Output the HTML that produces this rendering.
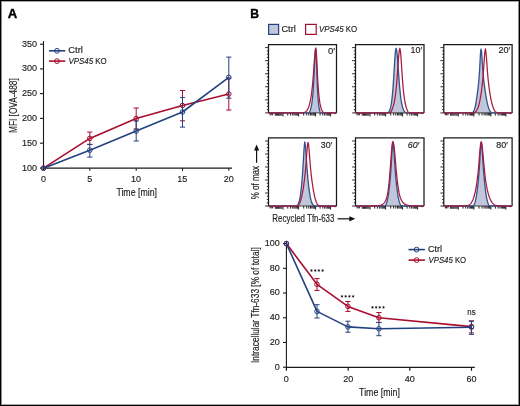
<!DOCTYPE html>
<html><head><meta charset="utf-8"><style>
html,body{margin:0;padding:0;background:#fff;}
body{width:520px;height:406px;overflow:hidden;font-family:"Liberation Sans", sans-serif;}
svg{display:block;will-change:transform;}
</style></head><body>
<svg width="520" height="406" viewBox="0 0 520 406" font-family='"Liberation Sans", sans-serif'><g opacity="0.999"><rect x="0.5" y="0.5" width="519" height="405" fill="#fff" stroke="#000" stroke-width="1"/>
<path d="M1.5,1 V405 M518.5,1 V405" stroke="#8a8a8a" stroke-width="1"/>
<path d="M2,1.5 H518 M2,404.5 H518" stroke="#a8a8a8" stroke-width="1"/>
<text x="7.67" y="17.90" font-size="12.2" fill="#000" stroke="#000" stroke-width="0.35" textLength="9.49" lengthAdjust="spacingAndGlyphs"><tspan font-weight="bold">A</tspan></text>
<text x="250.21" y="17.90" font-size="12.2" fill="#000" stroke="#000" stroke-width="0.35" textLength="8.76" lengthAdjust="spacingAndGlyphs"><tspan font-weight="bold">B</tspan></text>
<line x1="43.5" y1="41" x2="43.5" y2="168.7" stroke="#1a1a1a" stroke-width="1.1"/>
<line x1="43.0" y1="168.2" x2="232" y2="168.2" stroke="#1a1a1a" stroke-width="1.3"/>
<line x1="40" y1="44.2" x2="43.5" y2="44.2" stroke="#1a1a1a" stroke-width="1.1"/>
<text x="22.10" y="46.70" font-size="9.3" fill="#1c1c1c" stroke="#1c1c1c" stroke-width="0.15" textLength="15.05" lengthAdjust="spacingAndGlyphs"><tspan>350</tspan></text>
<line x1="40" y1="68.9" x2="43.5" y2="68.9" stroke="#1a1a1a" stroke-width="1.1"/>
<text x="22.10" y="71.40" font-size="9.3" fill="#1c1c1c" stroke="#1c1c1c" stroke-width="0.15" textLength="15.05" lengthAdjust="spacingAndGlyphs"><tspan>300</tspan></text>
<line x1="40" y1="93.6" x2="43.5" y2="93.6" stroke="#1a1a1a" stroke-width="1.1"/>
<text x="22.10" y="96.10" font-size="9.3" fill="#1c1c1c" stroke="#1c1c1c" stroke-width="0.15" textLength="15.05" lengthAdjust="spacingAndGlyphs"><tspan>250</tspan></text>
<line x1="40" y1="118.4" x2="43.5" y2="118.4" stroke="#1a1a1a" stroke-width="1.1"/>
<text x="22.10" y="120.90" font-size="9.3" fill="#1c1c1c" stroke="#1c1c1c" stroke-width="0.15" textLength="15.05" lengthAdjust="spacingAndGlyphs"><tspan>200</tspan></text>
<line x1="40" y1="143.2" x2="43.5" y2="143.2" stroke="#1a1a1a" stroke-width="1.1"/>
<text x="22.10" y="145.70" font-size="9.3" fill="#1c1c1c" stroke="#1c1c1c" stroke-width="0.15" textLength="15.05" lengthAdjust="spacingAndGlyphs"><tspan>150</tspan></text>
<line x1="40" y1="168.0" x2="43.5" y2="168.0" stroke="#1a1a1a" stroke-width="1.1"/>
<text x="22.10" y="170.50" font-size="9.3" fill="#1c1c1c" stroke="#1c1c1c" stroke-width="0.15" textLength="15.05" lengthAdjust="spacingAndGlyphs"><tspan>100</tspan></text>
<line x1="43.5" y1="168.2" x2="43.5" y2="170.8" stroke="#1a1a1a" stroke-width="1.1"/>
<text x="40.97" y="181.80" font-size="9.3" fill="#1c1c1c" stroke="#1c1c1c" stroke-width="0.15" textLength="5.02" lengthAdjust="spacingAndGlyphs"><tspan>0</tspan></text>
<line x1="89.8" y1="168.2" x2="89.8" y2="170.8" stroke="#1a1a1a" stroke-width="1.1"/>
<text x="87.30" y="181.80" font-size="9.3" fill="#1c1c1c" stroke="#1c1c1c" stroke-width="0.15" textLength="5.02" lengthAdjust="spacingAndGlyphs"><tspan>5</tspan></text>
<line x1="136.2" y1="168.2" x2="136.2" y2="170.8" stroke="#1a1a1a" stroke-width="1.1"/>
<text x="131.01" y="181.80" font-size="9.3" fill="#1c1c1c" stroke="#1c1c1c" stroke-width="0.15" textLength="10.03" lengthAdjust="spacingAndGlyphs"><tspan>10</tspan></text>
<line x1="182.5" y1="168.2" x2="182.5" y2="170.8" stroke="#1a1a1a" stroke-width="1.1"/>
<text x="177.34" y="181.80" font-size="9.3" fill="#1c1c1c" stroke="#1c1c1c" stroke-width="0.15" textLength="10.03" lengthAdjust="spacingAndGlyphs"><tspan>15</tspan></text>
<line x1="228.8" y1="168.2" x2="228.8" y2="170.8" stroke="#1a1a1a" stroke-width="1.1"/>
<text x="223.73" y="181.80" font-size="9.3" fill="#1c1c1c" stroke="#1c1c1c" stroke-width="0.15" textLength="10.03" lengthAdjust="spacingAndGlyphs"><tspan>20</tspan></text>
<text x="116.42" y="196.40" font-size="10.6" fill="#1c1c1c" stroke="#1c1c1c" stroke-width="0.15" textLength="40.53" lengthAdjust="spacingAndGlyphs"><tspan>Time [min]</tspan></text>
<text x="0" y="0" transform="translate(16.70 132.96) rotate(-90)" font-size="11.0" fill="#1c1c1c" stroke="#1c1c1c" stroke-width="0.15" textLength="54.68" lengthAdjust="spacingAndGlyphs"><tspan>MFI [OVA-488]</tspan></text>
<line x1="49" y1="50.8" x2="65.3" y2="50.8" stroke="#22427f" stroke-width="1.6"/>
<circle cx="57" cy="50.8" r="2.4" fill="none" stroke="#22427f" stroke-width="1"/>
<line x1="49" y1="61.1" x2="65.3" y2="61.1" stroke="#a80d2e" stroke-width="1.6"/>
<circle cx="57" cy="61.1" r="2.4" fill="none" stroke="#a80d2e" stroke-width="1"/>
<text x="68.33" y="52.90" font-size="8.4" fill="#1c1c1c" stroke="#1c1c1c" stroke-width="0.15" textLength="14.47" lengthAdjust="spacingAndGlyphs"><tspan>Ctrl</tspan></text>
<text x="68.53" y="63.80" font-size="8.5" fill="#1c1c1c" stroke="#1c1c1c" stroke-width="0.15" textLength="38.24" lengthAdjust="spacingAndGlyphs"><tspan font-style="italic">VPS45</tspan><tspan> KO</tspan></text>
<path d="M43.50,168.20 L89.80,138.40 L136.20,118.50 L182.50,105.50 L228.80,94.00" fill="none" stroke="#a80d2e" stroke-width="1.6" stroke-linejoin="round"/>
<path d="M89.80,132.10 V144.60 M87.20,132.10 H92.40 M87.20,144.60 H92.40 M136.20,108.00 V129.00 M133.60,108.00 H138.80 M133.60,129.00 H138.80 M182.50,90.50 V120.80 M179.90,90.50 H185.10 M179.90,120.80 H185.10 M228.80,78.00 V110.00 M226.20,78.00 H231.40 M226.20,110.00 H231.40 " stroke="#a80d2e" stroke-width="1" fill="none"/>
<circle cx="43.50" cy="168.20" r="2.3" fill="none" stroke="#a80d2e" stroke-width="1.0"/>
<circle cx="89.80" cy="138.40" r="2.3" fill="none" stroke="#a80d2e" stroke-width="1.0"/>
<circle cx="136.20" cy="118.50" r="2.3" fill="none" stroke="#a80d2e" stroke-width="1.0"/>
<circle cx="182.50" cy="105.50" r="2.3" fill="none" stroke="#a80d2e" stroke-width="1.0"/>
<circle cx="228.80" cy="94.00" r="2.3" fill="none" stroke="#a80d2e" stroke-width="1.0"/>
<path d="M43.50,168.20 L89.80,150.20 L136.20,131.10 L182.50,112.00 L228.80,77.30" fill="none" stroke="#22427f" stroke-width="1.6" stroke-linejoin="round"/>
<path d="M89.80,144.30 V157.10 M87.20,144.30 H92.40 M87.20,157.10 H92.40 M136.20,121.00 V141.00 M133.60,121.00 H138.80 M133.60,141.00 H138.80 M182.50,97.60 V127.10 M179.90,97.60 H185.10 M179.90,127.10 H185.10 M228.80,57.10 V98.20 M226.20,57.10 H231.40 M226.20,98.20 H231.40 " stroke="#22427f" stroke-width="1" fill="none"/>
<circle cx="43.50" cy="168.20" r="2.3" fill="none" stroke="#22427f" stroke-width="1.0"/>
<circle cx="89.80" cy="150.20" r="2.3" fill="none" stroke="#22427f" stroke-width="1.0"/>
<circle cx="136.20" cy="131.10" r="2.3" fill="none" stroke="#22427f" stroke-width="1.0"/>
<circle cx="182.50" cy="112.00" r="2.3" fill="none" stroke="#22427f" stroke-width="1.0"/>
<circle cx="228.80" cy="77.30" r="2.3" fill="none" stroke="#22427f" stroke-width="1.0"/>
<rect x="268.6" y="24.4" width="10.0" height="10.0" fill="#c2c6da" stroke="#22427f" stroke-width="1.2"/>
<rect x="305.6" y="24.4" width="10.6" height="10.0" fill="#fff" stroke="#a80d2e" stroke-width="1.2"/>
<text x="281.44" y="31.80" font-size="8.5" fill="#1c1c1c" stroke="#1c1c1c" stroke-width="0.15" textLength="14.36" lengthAdjust="spacingAndGlyphs"><tspan>Ctrl</tspan></text>
<text x="319.03" y="31.60" font-size="8.5" fill="#1c1c1c" stroke="#1c1c1c" stroke-width="0.15" textLength="38.24" lengthAdjust="spacingAndGlyphs"><tspan font-style="italic">VPS45</tspan><tspan> KO</tspan></text>
<path d="M268.5,112.90 L269.0,112.90 L269.5,112.90 L270.0,112.90 L270.5,112.90 L271.0,112.90 L271.5,112.90 L272.0,112.90 L272.5,112.90 L273.0,112.90 L273.5,112.90 L274.0,112.90 L274.5,112.90 L275.0,112.90 L275.5,112.90 L276.0,112.90 L276.5,112.90 L277.0,112.90 L277.5,112.90 L278.0,112.90 L278.5,112.90 L279.0,112.90 L279.5,112.90 L280.0,112.90 L280.5,112.90 L281.0,112.90 L281.5,112.90 L282.0,112.90 L282.5,112.90 L283.0,112.90 L283.5,112.90 L284.0,112.90 L284.5,112.90 L285.0,112.90 L285.5,112.90 L286.0,112.90 L286.5,112.90 L287.0,112.90 L287.5,112.90 L288.0,112.90 L288.5,112.90 L289.0,112.90 L289.5,112.90 L290.0,112.90 L290.5,112.90 L291.0,112.90 L291.5,112.90 L292.0,112.90 L292.5,112.90 L293.0,112.90 L293.5,112.90 L294.0,112.90 L294.5,112.90 L295.0,112.90 L295.5,112.90 L296.0,112.90 L296.5,112.90 L297.0,112.90 L297.5,112.90 L298.0,112.90 L298.5,112.90 L299.0,112.90 L299.5,112.90 L300.0,112.90 L300.5,112.90 L301.0,112.90 L301.5,112.90 L302.0,112.90 L302.5,112.90 L303.0,112.90 L303.5,112.90 L304.0,112.90 L304.5,112.90 L305.0,112.90 L305.5,112.90 L306.0,112.90 L306.5,112.90 L307.0,112.90 L307.5,112.90 L308.0,112.90 L308.5,112.90 L309.0,112.90 L309.5,112.09 L310.0,110.90 L310.5,109.44 L311.0,107.60 L311.5,105.27 L312.0,102.24 L312.5,98.20 L313.0,92.73 L313.5,85.41 L314.0,76.07 L314.5,65.39 L315.0,55.42 L315.5,49.32 L315.7,48.60 L316.0,50.62 L316.5,62.48 L317.0,77.51 L317.5,89.73 L318.0,98.06 L318.5,103.51 L319.0,107.18 L319.5,109.78 L320.0,111.68 L320.5,112.90 L321.0,112.90 L321.5,112.90 L322.0,112.90 L322.5,112.90 L323.0,112.90 L323.5,112.90 L324.0,112.90 L324.5,112.90 L325.0,112.90 L325.5,112.90 L326.0,112.90 L326.5,112.90 L327.0,112.90 L327.5,112.90 L328.0,112.90 L328.5,112.90 L329.0,112.90 L329.5,112.90 L330.0,112.90 L330.5,112.90 L331.0,112.90 L331.5,112.90 L332.0,112.90 L332.5,112.90 L333.0,112.90 L333.5,112.90 L334.0,112.90 L334.5,112.90 L335.0,112.90 L335.5,112.90 L336.0,112.90 L336.5,112.90 L336.5,112.9 L268.5,112.9 Z" fill="#c2c6da"/>
<path d="M268.5,112.9 V44.5 H336.5 V112.9" fill="none" stroke="#1a1a1a" stroke-width="1.25"/>
<path d="M268.5,112.9 H336.5" fill="none" stroke="#1a1a1a" stroke-width="0.8"/>
<path d="M265.1,47.60 H268.5 M266.8,50.87 H268.5 M266.8,54.13 H268.5 M266.8,57.40 H268.5 M265.1,60.66 H268.5 M266.8,63.93 H268.5 M266.8,67.19 H268.5 M266.8,70.46 H268.5 M265.1,73.72 H268.5 M266.8,76.98 H268.5 M266.8,80.25 H268.5 M266.8,83.52 H268.5 M265.1,86.78 H268.5 M266.8,90.05 H268.5 M266.8,93.31 H268.5 M266.8,96.58 H268.5 M265.1,99.84 H268.5 M266.8,103.11 H268.5 M266.8,106.37 H268.5 M266.8,109.64 H268.5 M265.1,112.90 H268.5 " stroke="#1a1a1a" stroke-width="0.9"/>
<path d="M270.1,112.9 v2.4 M271.2,112.9 v2.4 M272.6,112.9 v2.4 M275.3,112.9 v2.8 M276.4,112.9 v2.8 M277.5,112.9 v2.8 M278.6,112.9 v2.8 M279.7,112.9 v2.8 M280.8,112.9 v2.8 M281.9,112.9 v2.8 M283.0,112.9 v3.6 M287.7,112.9 v2.6 M290.4,112.9 v2.6 M292.4,112.9 v2.6 M293.9,112.9 v2.6 M295.1,112.9 v2.6 M296.2,112.9 v2.6 M297.1,112.9 v2.6 M297.9,112.9 v2.6 M298.6,112.9 v3.6 M303.7,112.9 v2.6 M306.7,112.9 v2.6 M308.8,112.9 v2.6 M310.5,112.9 v2.6 M311.8,112.9 v2.6 M313.0,112.9 v2.6 M314.0,112.9 v2.6 M314.8,112.9 v2.6 M315.6,112.9 v3.6 M320.1,112.9 v2.6 M322.8,112.9 v2.6 M324.6,112.9 v2.6 M326.1,112.9 v2.6 M327.3,112.9 v2.6 M328.3,112.9 v2.6 M329.1,112.9 v2.6 M329.9,112.9 v2.6 M330.6,112.9 v3.6 M335.0,112.9 v1.3 " stroke="#1a1a1a" stroke-width="0.95"/>
<path d="M268.5,112.90 L269.0,112.90 L269.5,112.90 L270.0,112.90 L270.5,112.90 L271.0,112.90 L271.5,112.90 L272.0,112.90 L272.5,112.90 L273.0,112.90 L273.5,112.90 L274.0,112.90 L274.5,112.90 L275.0,112.90 L275.5,112.90 L276.0,112.90 L276.5,112.90 L277.0,112.90 L277.5,112.90 L278.0,112.90 L278.5,112.90 L279.0,112.90 L279.5,112.90 L280.0,112.90 L280.5,112.90 L281.0,112.90 L281.5,112.90 L282.0,112.90 L282.5,112.90 L283.0,112.90 L283.5,112.90 L284.0,112.90 L284.5,112.90 L285.0,112.90 L285.5,112.90 L286.0,112.90 L286.5,112.90 L287.0,112.90 L287.5,112.90 L288.0,112.90 L288.5,112.90 L289.0,112.90 L289.5,112.90 L290.0,112.90 L290.5,112.90 L291.0,112.90 L291.5,112.90 L292.0,112.90 L292.5,112.90 L293.0,112.90 L293.5,112.90 L294.0,112.90 L294.5,112.90 L295.0,112.90 L295.5,112.90 L296.0,112.90 L296.5,112.90 L297.0,112.90 L297.5,112.90 L298.0,112.90 L298.5,112.90 L299.0,112.90 L299.5,112.90 L300.0,112.90 L300.5,112.90 L301.0,112.90 L301.5,112.90 L302.0,112.90 L302.5,112.90 L303.0,112.90 L303.5,112.90 L304.0,112.90 L304.5,112.90 L305.0,112.90 L305.5,112.90 L306.0,112.90 L306.5,112.90 L307.0,112.90 L307.5,112.90 L308.0,112.90 L308.5,112.90 L309.0,112.90 L309.5,112.09 L310.0,110.90 L310.5,109.44 L311.0,107.60 L311.5,105.27 L312.0,102.24 L312.5,98.20 L313.0,92.73 L313.5,85.41 L314.0,76.07 L314.5,65.39 L315.0,55.42 L315.5,49.32 L315.7,48.60 L316.0,50.62 L316.5,62.48 L317.0,77.51 L317.5,89.73 L318.0,98.06 L318.5,103.51 L319.0,107.18 L319.5,109.78 L320.0,111.68 L320.5,112.90 L321.0,112.90 L321.5,112.90 L322.0,112.90 L322.5,112.90 L323.0,112.90 L323.5,112.90 L324.0,112.90 L324.5,112.90 L325.0,112.90 L325.5,112.90 L326.0,112.90 L326.5,112.90 L327.0,112.90 L327.5,112.90 L328.0,112.90 L328.5,112.90 L329.0,112.90 L329.5,112.90 L330.0,112.90 L330.5,112.90 L331.0,112.90 L331.5,112.90 L332.0,112.90 L332.5,112.90 L333.0,112.90 L333.5,112.90 L334.0,112.90 L334.5,112.90 L335.0,112.90 L335.5,112.90 L336.0,112.90 L336.5,112.90" fill="none" stroke="#33538d" stroke-width="1.3"/>
<path d="M268.5,112.90 L269.0,112.90 L269.5,112.90 L270.0,112.90 L270.5,112.90 L271.0,112.90 L271.5,112.90 L272.0,112.90 L272.5,112.90 L273.0,112.90 L273.5,112.90 L274.0,112.90 L274.5,112.90 L275.0,112.90 L275.5,112.90 L276.0,112.90 L276.5,112.90 L277.0,112.90 L277.5,112.90 L278.0,112.90 L278.5,112.90 L279.0,112.90 L279.5,112.90 L280.0,112.90 L280.5,112.90 L281.0,112.90 L281.5,112.90 L282.0,112.90 L282.5,112.90 L283.0,112.90 L283.5,112.90 L284.0,112.90 L284.5,112.90 L285.0,112.90 L285.5,112.90 L286.0,112.90 L286.5,112.90 L287.0,112.90 L287.5,112.90 L288.0,112.90 L288.5,112.90 L289.0,112.90 L289.5,112.90 L290.0,112.90 L290.5,112.90 L291.0,112.90 L291.5,112.90 L292.0,112.90 L292.5,112.90 L293.0,112.90 L293.5,112.90 L294.0,112.90 L294.5,112.90 L295.0,112.90 L295.5,112.90 L296.0,112.90 L296.5,112.90 L297.0,112.90 L297.5,112.90 L298.0,112.90 L298.5,112.90 L299.0,112.89 L299.5,112.89 L300.0,112.89 L300.5,112.88 L301.0,112.87 L301.5,112.85 L302.0,112.82 L302.5,112.78 L303.0,112.72 L303.5,112.63 L304.0,112.52 L304.5,112.36 L305.0,112.14 L305.5,111.85 L306.0,111.47 L306.5,110.97 L307.0,110.35 L307.5,109.57 L308.0,108.61 L308.5,107.44 L309.0,106.02 L309.5,104.34 L310.0,102.34 L310.5,99.98 L311.0,97.19 L311.5,93.87 L312.0,89.91 L312.5,85.17 L313.0,79.55 L313.5,73.04 L314.0,65.89 L314.5,58.76 L315.0,52.71 L315.5,49.04 L315.8,48.40 L316.0,49.00 L316.5,55.15 L317.0,65.13 L317.5,75.43 L318.0,84.17 L318.5,91.04 L319.0,96.33 L319.5,100.44 L320.0,103.66 L320.5,106.17 L321.0,108.11 L321.5,109.58 L322.0,110.66 L322.5,111.43 L323.0,111.97 L323.5,112.32 L324.0,112.56 L324.5,112.70 L325.0,112.79 L325.5,112.84 L326.0,112.87 L326.5,112.88 L327.0,112.89 L327.5,112.90 L328.0,112.90 L328.5,112.90 L329.0,112.90 L329.5,112.90 L330.0,112.90 L330.5,112.90 L331.0,112.90 L331.5,112.90 L332.0,112.90 L332.5,112.90 L333.0,112.90 L333.5,112.90 L334.0,112.90 L334.5,112.90 L335.0,112.90 L335.5,112.90 L336.0,112.90 L336.5,112.90" fill="none" stroke="#aa1a3c" stroke-width="1.25"/>
<text x="327.92" y="53.60" font-size="8.8" fill="#1c1c1c" stroke="#1c1c1c" stroke-width="0.15" textLength="7.06" lengthAdjust="spacingAndGlyphs"><tspan>0′</tspan></text>
<path d="M355.5,112.90 L356.0,112.90 L356.5,112.90 L357.0,112.90 L357.5,112.90 L358.0,112.90 L358.5,112.90 L359.0,112.90 L359.5,112.90 L360.0,112.90 L360.5,112.90 L361.0,112.90 L361.5,112.90 L362.0,112.90 L362.5,112.90 L363.0,112.90 L363.5,112.90 L364.0,112.90 L364.5,112.90 L365.0,112.90 L365.5,112.90 L366.0,112.90 L366.5,112.90 L367.0,112.90 L367.5,112.90 L368.0,112.90 L368.5,112.90 L369.0,112.90 L369.5,112.90 L370.0,112.90 L370.5,112.90 L371.0,112.90 L371.5,112.90 L372.0,112.90 L372.5,112.90 L373.0,112.90 L373.5,112.90 L374.0,112.90 L374.5,112.90 L375.0,112.90 L375.5,112.90 L376.0,112.90 L376.5,112.90 L377.0,112.90 L377.5,112.90 L378.0,112.90 L378.5,112.90 L379.0,112.90 L379.5,112.90 L380.0,112.90 L380.5,112.90 L381.0,112.90 L381.5,112.90 L382.0,112.90 L382.5,112.90 L383.0,112.90 L383.5,112.90 L384.0,112.90 L384.5,112.90 L385.0,112.90 L385.5,112.90 L386.0,112.90 L386.5,112.90 L387.0,112.90 L387.5,112.90 L388.0,112.90 L388.5,112.49 L389.0,111.69 L389.5,110.67 L390.0,109.37 L390.5,107.67 L391.0,105.45 L391.5,102.54 L392.0,98.76 L392.5,93.91 L393.0,87.86 L393.5,80.61 L394.0,72.43 L394.5,63.98 L395.0,56.32 L395.5,50.75 L396.0,48.43 L396.1,48.40 L396.5,49.44 L397.0,52.95 L397.5,58.41 L398.0,65.06 L398.5,72.16 L399.0,79.08 L399.5,85.40 L400.0,90.92 L400.5,95.58 L401.0,99.41 L401.5,102.52 L402.0,105.01 L402.5,107.00 L403.0,108.59 L403.5,109.86 L404.0,110.88 L404.5,111.71 L405.0,112.39 L405.5,112.90 L406.0,112.90 L406.5,112.90 L407.0,112.90 L407.5,112.90 L408.0,112.90 L408.5,112.90 L409.0,112.90 L409.5,112.90 L410.0,112.90 L410.5,112.90 L411.0,112.90 L411.5,112.90 L412.0,112.90 L412.5,112.90 L413.0,112.90 L413.5,112.90 L414.0,112.90 L414.5,112.90 L415.0,112.90 L415.5,112.90 L416.0,112.90 L416.5,112.90 L417.0,112.90 L417.5,112.90 L418.0,112.90 L418.5,112.90 L419.0,112.90 L419.5,112.90 L420.0,112.90 L420.5,112.90 L421.0,112.90 L421.5,112.90 L422.0,112.90 L422.5,112.90 L423.0,112.90 L423.5,112.90 L424.0,112.90 L424.0,112.9 L355.5,112.9 Z" fill="#c2c6da"/>
<path d="M355.5,112.9 V44.5 H424.0 V112.9" fill="none" stroke="#1a1a1a" stroke-width="1.25"/>
<path d="M355.5,112.9 H424.0" fill="none" stroke="#1a1a1a" stroke-width="0.8"/>
<path d="M352.1,47.60 H355.5 M353.8,50.87 H355.5 M353.8,54.13 H355.5 M353.8,57.40 H355.5 M352.1,60.66 H355.5 M353.8,63.93 H355.5 M353.8,67.19 H355.5 M353.8,70.46 H355.5 M352.1,73.72 H355.5 M353.8,76.98 H355.5 M353.8,80.25 H355.5 M353.8,83.52 H355.5 M352.1,86.78 H355.5 M353.8,90.05 H355.5 M353.8,93.31 H355.5 M353.8,96.58 H355.5 M352.1,99.84 H355.5 M353.8,103.11 H355.5 M353.8,106.37 H355.5 M353.8,109.64 H355.5 M352.1,112.90 H355.5 " stroke="#1a1a1a" stroke-width="0.9"/>
<path d="M357.1,112.9 v2.4 M358.2,112.9 v2.4 M359.6,112.9 v2.4 M362.3,112.9 v2.8 M363.4,112.9 v2.8 M364.5,112.9 v2.8 M365.6,112.9 v2.8 M366.7,112.9 v2.8 M367.8,112.9 v2.8 M368.9,112.9 v2.8 M370.0,112.9 v3.6 M374.7,112.9 v2.6 M377.4,112.9 v2.6 M379.4,112.9 v2.6 M380.9,112.9 v2.6 M382.1,112.9 v2.6 M383.2,112.9 v2.6 M384.1,112.9 v2.6 M384.9,112.9 v2.6 M385.6,112.9 v3.6 M390.7,112.9 v2.6 M393.7,112.9 v2.6 M395.8,112.9 v2.6 M397.5,112.9 v2.6 M398.8,112.9 v2.6 M400.0,112.9 v2.6 M401.0,112.9 v2.6 M401.8,112.9 v2.6 M402.6,112.9 v3.6 M407.1,112.9 v2.6 M409.8,112.9 v2.6 M411.6,112.9 v2.6 M413.1,112.9 v2.6 M414.3,112.9 v2.6 M415.3,112.9 v2.6 M416.1,112.9 v2.6 M416.9,112.9 v2.6 M417.6,112.9 v3.6 M422.0,112.9 v1.3 " stroke="#1a1a1a" stroke-width="0.95"/>
<path d="M355.5,112.90 L356.0,112.90 L356.5,112.90 L357.0,112.90 L357.5,112.90 L358.0,112.90 L358.5,112.90 L359.0,112.90 L359.5,112.90 L360.0,112.90 L360.5,112.90 L361.0,112.90 L361.5,112.90 L362.0,112.90 L362.5,112.90 L363.0,112.90 L363.5,112.90 L364.0,112.90 L364.5,112.90 L365.0,112.90 L365.5,112.90 L366.0,112.90 L366.5,112.90 L367.0,112.90 L367.5,112.90 L368.0,112.90 L368.5,112.90 L369.0,112.90 L369.5,112.90 L370.0,112.90 L370.5,112.90 L371.0,112.90 L371.5,112.90 L372.0,112.90 L372.5,112.90 L373.0,112.90 L373.5,112.90 L374.0,112.90 L374.5,112.90 L375.0,112.90 L375.5,112.90 L376.0,112.90 L376.5,112.90 L377.0,112.90 L377.5,112.90 L378.0,112.90 L378.5,112.90 L379.0,112.90 L379.5,112.90 L380.0,112.90 L380.5,112.90 L381.0,112.90 L381.5,112.90 L382.0,112.90 L382.5,112.90 L383.0,112.90 L383.5,112.90 L384.0,112.90 L384.5,112.90 L385.0,112.90 L385.5,112.90 L386.0,112.90 L386.5,112.90 L387.0,112.90 L387.5,112.90 L388.0,112.90 L388.5,112.49 L389.0,111.69 L389.5,110.67 L390.0,109.37 L390.5,107.67 L391.0,105.45 L391.5,102.54 L392.0,98.76 L392.5,93.91 L393.0,87.86 L393.5,80.61 L394.0,72.43 L394.5,63.98 L395.0,56.32 L395.5,50.75 L396.0,48.43 L396.1,48.40 L396.5,49.44 L397.0,52.95 L397.5,58.41 L398.0,65.06 L398.5,72.16 L399.0,79.08 L399.5,85.40 L400.0,90.92 L400.5,95.58 L401.0,99.41 L401.5,102.52 L402.0,105.01 L402.5,107.00 L403.0,108.59 L403.5,109.86 L404.0,110.88 L404.5,111.71 L405.0,112.39 L405.5,112.90 L406.0,112.90 L406.5,112.90 L407.0,112.90 L407.5,112.90 L408.0,112.90 L408.5,112.90 L409.0,112.90 L409.5,112.90 L410.0,112.90 L410.5,112.90 L411.0,112.90 L411.5,112.90 L412.0,112.90 L412.5,112.90 L413.0,112.90 L413.5,112.90 L414.0,112.90 L414.5,112.90 L415.0,112.90 L415.5,112.90 L416.0,112.90 L416.5,112.90 L417.0,112.90 L417.5,112.90 L418.0,112.90 L418.5,112.90 L419.0,112.90 L419.5,112.90 L420.0,112.90 L420.5,112.90 L421.0,112.90 L421.5,112.90 L422.0,112.90 L422.5,112.90 L423.0,112.90 L423.5,112.90 L424.0,112.90" fill="none" stroke="#33538d" stroke-width="1.3"/>
<path d="M355.5,112.90 L356.0,112.90 L356.5,112.90 L357.0,112.90 L357.5,112.90 L358.0,112.90 L358.5,112.90 L359.0,112.90 L359.5,112.90 L360.0,112.90 L360.5,112.90 L361.0,112.90 L361.5,112.90 L362.0,112.90 L362.5,112.90 L363.0,112.90 L363.5,112.90 L364.0,112.90 L364.5,112.90 L365.0,112.90 L365.5,112.90 L366.0,112.90 L366.5,112.90 L367.0,112.90 L367.5,112.90 L368.0,112.90 L368.5,112.90 L369.0,112.90 L369.5,112.90 L370.0,112.90 L370.5,112.90 L371.0,112.90 L371.5,112.90 L372.0,112.90 L372.5,112.90 L373.0,112.90 L373.5,112.90 L374.0,112.90 L374.5,112.90 L375.0,112.90 L375.5,112.90 L376.0,112.90 L376.5,112.90 L377.0,112.90 L377.5,112.90 L378.0,112.90 L378.5,112.90 L379.0,112.90 L379.5,112.90 L380.0,112.90 L380.5,112.90 L381.0,112.90 L381.5,112.90 L382.0,112.90 L382.5,112.90 L383.0,112.90 L383.5,112.90 L384.0,112.90 L384.5,112.90 L385.0,112.90 L385.5,112.90 L386.0,112.90 L386.5,112.90 L387.0,112.90 L387.5,112.90 L388.0,112.90 L388.5,112.90 L389.0,112.90 L389.5,112.90 L390.0,112.90 L390.5,112.43 L391.0,111.64 L391.5,110.71 L392.0,109.63 L392.5,108.38 L393.0,106.93 L393.5,105.23 L394.0,103.22 L394.5,100.82 L395.0,97.95 L395.5,94.47 L396.0,90.26 L396.5,85.20 L397.0,79.25 L397.5,72.53 L398.0,65.39 L398.5,58.51 L399.0,52.84 L399.5,49.39 L399.8,48.70 L400.0,48.90 L400.5,51.87 L401.0,57.67 L401.5,65.08 L402.0,72.84 L402.5,80.09 L403.0,86.39 L403.5,91.64 L404.0,95.93 L404.5,99.41 L405.0,102.25 L405.5,104.58 L406.0,106.53 L406.5,108.16 L407.0,109.55 L407.5,110.72 L408.0,111.72 L408.5,112.57 L409.0,112.90 L409.5,112.90 L410.0,112.90 L410.5,112.90 L411.0,112.90 L411.5,112.90 L412.0,112.90 L412.5,112.90 L413.0,112.90 L413.5,112.90 L414.0,112.90 L414.5,112.90 L415.0,112.90 L415.5,112.90 L416.0,112.90 L416.5,112.90 L417.0,112.90 L417.5,112.90 L418.0,112.90 L418.5,112.90 L419.0,112.90 L419.5,112.90 L420.0,112.90 L420.5,112.90 L421.0,112.90 L421.5,112.90 L422.0,112.90 L422.5,112.90 L423.0,112.90 L423.5,112.90 L424.0,112.90" fill="none" stroke="#aa1a3c" stroke-width="1.25"/>
<text x="410.58" y="53.10" font-size="8.8" fill="#1c1c1c" stroke="#1c1c1c" stroke-width="0.15" textLength="11.60" lengthAdjust="spacingAndGlyphs"><tspan>10′</tspan></text>
<path d="M443.8,112.90 L444.3,112.90 L444.8,112.90 L445.3,112.90 L445.8,112.90 L446.3,112.90 L446.8,112.90 L447.3,112.90 L447.8,112.90 L448.3,112.90 L448.8,112.90 L449.3,112.90 L449.8,112.90 L450.3,112.90 L450.8,112.90 L451.3,112.90 L451.8,112.90 L452.3,112.90 L452.8,112.90 L453.3,112.90 L453.8,112.90 L454.3,112.90 L454.8,112.90 L455.4,112.90 L455.9,112.90 L456.4,112.90 L456.9,112.90 L457.4,112.90 L457.9,112.90 L458.4,112.90 L458.9,112.90 L459.4,112.90 L459.9,112.90 L460.4,112.90 L460.9,112.90 L461.4,112.90 L461.9,112.90 L462.4,112.90 L462.9,112.90 L463.4,112.90 L463.9,112.90 L464.4,112.90 L464.9,112.90 L465.4,112.90 L465.9,112.90 L466.4,112.90 L466.9,112.90 L467.4,112.90 L467.9,112.90 L468.4,112.90 L468.9,112.90 L469.4,112.90 L469.9,112.90 L470.4,112.90 L470.9,112.90 L471.4,112.90 L471.9,112.90 L472.4,112.90 L472.9,112.43 L473.4,111.74 L473.9,110.79 L474.4,109.52 L474.9,107.87 L475.4,105.79 L475.9,103.24 L476.4,100.24 L476.9,96.80 L477.4,92.95 L478.0,88.70 L478.5,83.96 L479.0,78.42 L479.5,71.46 L480.0,62.62 L480.5,53.38 L481.0,48.72 L481.0,48.70 L481.5,51.17 L482.0,57.71 L482.5,65.33 L483.0,72.12 L483.5,77.69 L484.0,82.30 L484.5,86.30 L485.0,89.91 L485.5,93.24 L486.0,96.32 L486.5,99.14 L487.0,101.69 L487.5,103.95 L488.0,105.92 L488.5,107.60 L489.0,108.99 L489.5,110.14 L490.0,111.06 L490.5,111.78 L491.0,112.34 L491.5,112.76 L492.0,112.90 L492.5,112.90 L493.0,112.90 L493.5,112.90 L494.0,112.90 L494.5,112.90 L495.0,112.90 L495.5,112.90 L496.0,112.90 L496.5,112.90 L497.0,112.90 L497.5,112.90 L498.0,112.90 L498.5,112.90 L499.0,112.90 L499.5,112.90 L500.0,112.90 L500.5,112.90 L501.1,112.90 L501.6,112.90 L502.1,112.90 L502.6,112.90 L503.1,112.90 L503.6,112.90 L504.1,112.90 L504.6,112.90 L505.1,112.90 L505.6,112.90 L506.1,112.90 L506.6,112.90 L507.1,112.90 L507.6,112.90 L508.1,112.90 L508.6,112.90 L509.1,112.90 L509.6,112.90 L510.1,112.90 L510.6,112.90 L511.1,112.90 L511.6,112.90 L512.1,112.90 L512.1,112.9 L443.8,112.9 Z" fill="#c2c6da"/>
<path d="M443.8,112.9 V44.5 H512.1 V112.9" fill="none" stroke="#1a1a1a" stroke-width="1.25"/>
<path d="M443.8,112.9 H512.1" fill="none" stroke="#1a1a1a" stroke-width="0.8"/>
<path d="M440.4,47.60 H443.8 M442.1,50.87 H443.8 M442.1,54.13 H443.8 M442.1,57.40 H443.8 M440.4,60.66 H443.8 M442.1,63.93 H443.8 M442.1,67.19 H443.8 M442.1,70.46 H443.8 M440.4,73.72 H443.8 M442.1,76.98 H443.8 M442.1,80.25 H443.8 M442.1,83.52 H443.8 M440.4,86.78 H443.8 M442.1,90.05 H443.8 M442.1,93.31 H443.8 M442.1,96.58 H443.8 M440.4,99.84 H443.8 M442.1,103.11 H443.8 M442.1,106.37 H443.8 M442.1,109.64 H443.8 M440.4,112.90 H443.8 " stroke="#1a1a1a" stroke-width="0.9"/>
<path d="M445.4,112.9 v2.4 M446.5,112.9 v2.4 M447.9,112.9 v2.4 M450.6,112.9 v2.8 M451.7,112.9 v2.8 M452.8,112.9 v2.8 M453.9,112.9 v2.8 M455.0,112.9 v2.8 M456.1,112.9 v2.8 M457.2,112.9 v2.8 M458.3,112.9 v3.6 M463.0,112.9 v2.6 M465.7,112.9 v2.6 M467.7,112.9 v2.6 M469.2,112.9 v2.6 M470.4,112.9 v2.6 M471.5,112.9 v2.6 M472.4,112.9 v2.6 M473.2,112.9 v2.6 M473.9,112.9 v3.6 M479.0,112.9 v2.6 M482.0,112.9 v2.6 M484.1,112.9 v2.6 M485.8,112.9 v2.6 M487.1,112.9 v2.6 M488.3,112.9 v2.6 M489.3,112.9 v2.6 M490.1,112.9 v2.6 M490.9,112.9 v3.6 M495.4,112.9 v2.6 M498.1,112.9 v2.6 M499.9,112.9 v2.6 M501.4,112.9 v2.6 M502.6,112.9 v2.6 M503.6,112.9 v2.6 M504.4,112.9 v2.6 M505.2,112.9 v2.6 M505.9,112.9 v3.6 M510.3,112.9 v1.3 " stroke="#1a1a1a" stroke-width="0.95"/>
<path d="M443.8,112.90 L444.3,112.90 L444.8,112.90 L445.3,112.90 L445.8,112.90 L446.3,112.90 L446.8,112.90 L447.3,112.90 L447.8,112.90 L448.3,112.90 L448.8,112.90 L449.3,112.90 L449.8,112.90 L450.3,112.90 L450.8,112.90 L451.3,112.90 L451.8,112.90 L452.3,112.90 L452.8,112.90 L453.3,112.90 L453.8,112.90 L454.3,112.90 L454.8,112.90 L455.4,112.90 L455.9,112.90 L456.4,112.90 L456.9,112.90 L457.4,112.90 L457.9,112.90 L458.4,112.90 L458.9,112.90 L459.4,112.90 L459.9,112.90 L460.4,112.90 L460.9,112.90 L461.4,112.90 L461.9,112.90 L462.4,112.90 L462.9,112.90 L463.4,112.90 L463.9,112.90 L464.4,112.90 L464.9,112.90 L465.4,112.90 L465.9,112.90 L466.4,112.90 L466.9,112.90 L467.4,112.90 L467.9,112.90 L468.4,112.90 L468.9,112.90 L469.4,112.90 L469.9,112.90 L470.4,112.90 L470.9,112.90 L471.4,112.90 L471.9,112.90 L472.4,112.90 L472.9,112.43 L473.4,111.74 L473.9,110.79 L474.4,109.52 L474.9,107.87 L475.4,105.79 L475.9,103.24 L476.4,100.24 L476.9,96.80 L477.4,92.95 L478.0,88.70 L478.5,83.96 L479.0,78.42 L479.5,71.46 L480.0,62.62 L480.5,53.38 L481.0,48.72 L481.0,48.70 L481.5,51.17 L482.0,57.71 L482.5,65.33 L483.0,72.12 L483.5,77.69 L484.0,82.30 L484.5,86.30 L485.0,89.91 L485.5,93.24 L486.0,96.32 L486.5,99.14 L487.0,101.69 L487.5,103.95 L488.0,105.92 L488.5,107.60 L489.0,108.99 L489.5,110.14 L490.0,111.06 L490.5,111.78 L491.0,112.34 L491.5,112.76 L492.0,112.90 L492.5,112.90 L493.0,112.90 L493.5,112.90 L494.0,112.90 L494.5,112.90 L495.0,112.90 L495.5,112.90 L496.0,112.90 L496.5,112.90 L497.0,112.90 L497.5,112.90 L498.0,112.90 L498.5,112.90 L499.0,112.90 L499.5,112.90 L500.0,112.90 L500.5,112.90 L501.1,112.90 L501.6,112.90 L502.1,112.90 L502.6,112.90 L503.1,112.90 L503.6,112.90 L504.1,112.90 L504.6,112.90 L505.1,112.90 L505.6,112.90 L506.1,112.90 L506.6,112.90 L507.1,112.90 L507.6,112.90 L508.1,112.90 L508.6,112.90 L509.1,112.90 L509.6,112.90 L510.1,112.90 L510.6,112.90 L511.1,112.90 L511.6,112.90 L512.1,112.90" fill="none" stroke="#33538d" stroke-width="1.3"/>
<path d="M443.8,112.90 L444.3,112.90 L444.8,112.90 L445.3,112.90 L445.8,112.90 L446.3,112.90 L446.8,112.90 L447.3,112.90 L447.8,112.90 L448.3,112.90 L448.8,112.90 L449.3,112.90 L449.8,112.90 L450.3,112.90 L450.8,112.90 L451.3,112.90 L451.8,112.90 L452.3,112.90 L452.8,112.90 L453.3,112.90 L453.8,112.90 L454.3,112.90 L454.8,112.90 L455.4,112.90 L455.9,112.90 L456.4,112.90 L456.9,112.90 L457.4,112.90 L457.9,112.90 L458.4,112.90 L458.9,112.90 L459.4,112.90 L459.9,112.90 L460.4,112.90 L460.9,112.90 L461.4,112.90 L461.9,112.90 L462.4,112.90 L462.9,112.90 L463.4,112.90 L463.9,112.90 L464.4,112.90 L464.9,112.90 L465.4,112.90 L465.9,112.90 L466.4,112.90 L466.9,112.90 L467.4,112.90 L467.9,112.90 L468.4,112.90 L468.9,112.90 L469.4,112.90 L469.9,112.90 L470.4,112.90 L470.9,112.90 L471.4,112.90 L471.9,112.90 L472.4,112.90 L472.9,112.90 L473.4,112.90 L473.9,112.83 L474.4,112.63 L474.9,112.36 L475.4,111.99 L475.9,111.51 L476.4,110.87 L476.9,110.05 L477.4,109.03 L478.0,107.77 L478.5,106.24 L479.0,104.44 L479.5,102.34 L480.0,99.94 L480.5,97.22 L481.0,94.18 L481.5,90.78 L482.0,86.91 L482.5,82.41 L483.0,77.04 L483.5,70.61 L484.0,63.25 L484.5,55.89 L485.0,50.55 L485.4,49.20 L485.5,49.35 L486.0,52.46 L486.5,58.49 L487.0,65.55 L487.5,72.25 L488.0,78.05 L488.5,82.93 L489.0,87.09 L489.5,90.70 L490.0,93.90 L490.5,96.78 L491.0,99.37 L491.5,101.69 L492.0,103.74 L492.5,105.53 L493.0,107.07 L493.5,108.38 L494.0,109.46 L494.5,110.34 L495.0,111.05 L495.5,111.61 L496.0,112.05 L496.5,112.38 L497.0,112.63 L497.5,112.82 L498.0,112.90 L498.5,112.90 L499.0,112.90 L499.5,112.90 L500.0,112.90 L500.5,112.90 L501.1,112.90 L501.6,112.90 L502.1,112.90 L502.6,112.90 L503.1,112.90 L503.6,112.90 L504.1,112.90 L504.6,112.90 L505.1,112.90 L505.6,112.90 L506.1,112.90 L506.6,112.90 L507.1,112.90 L507.6,112.90 L508.1,112.90 L508.6,112.90 L509.1,112.90 L509.6,112.90 L510.1,112.90 L510.6,112.90 L511.1,112.90 L511.6,112.90 L512.1,112.90" fill="none" stroke="#aa1a3c" stroke-width="1.25"/>
<text x="498.44" y="53.10" font-size="8.8" fill="#1c1c1c" stroke="#1c1c1c" stroke-width="0.15" textLength="11.84" lengthAdjust="spacingAndGlyphs"><tspan>20′</tspan></text>
<path d="M268.5,206.00 L269.0,206.00 L269.5,206.00 L270.0,206.00 L270.5,206.00 L271.0,206.00 L271.5,206.00 L272.0,206.00 L272.5,206.00 L273.0,206.00 L273.5,206.00 L274.0,206.00 L274.5,206.00 L275.0,206.00 L275.5,206.00 L276.0,206.00 L276.5,206.00 L277.0,206.00 L277.5,206.00 L278.0,206.00 L278.5,206.00 L279.0,206.00 L279.5,206.00 L280.0,206.00 L280.5,206.00 L281.0,206.00 L281.5,206.00 L282.0,206.00 L282.5,206.00 L283.0,206.00 L283.5,206.00 L284.0,206.00 L284.5,206.00 L285.0,206.00 L285.5,206.00 L286.0,206.00 L286.5,206.00 L287.0,206.00 L287.5,206.00 L288.0,206.00 L288.5,206.00 L289.0,206.00 L289.5,206.00 L290.0,206.00 L290.5,206.00 L291.0,206.00 L291.5,206.00 L292.0,206.00 L292.5,206.00 L293.0,206.00 L293.5,206.00 L294.0,206.00 L294.5,206.00 L295.0,206.00 L295.5,206.00 L296.0,206.00 L296.5,205.90 L297.0,205.61 L297.5,205.15 L298.0,204.46 L298.5,203.45 L299.0,202.04 L299.5,200.14 L300.0,197.65 L300.5,194.52 L301.0,190.68 L301.5,186.10 L302.0,180.71 L302.5,174.35 L303.0,166.88 L303.5,158.37 L304.0,149.81 L304.5,143.71 L304.8,142.50 L305.0,142.83 L305.5,146.60 L306.0,153.24 L306.5,160.78 L307.0,167.96 L307.5,174.32 L308.0,179.84 L308.5,184.65 L309.0,188.83 L309.5,192.43 L310.0,195.51 L310.5,198.07 L311.0,200.16 L311.5,201.83 L312.0,203.12 L312.5,204.09 L313.0,204.81 L313.5,205.32 L314.0,205.67 L314.5,205.91 L315.0,206.00 L315.5,206.00 L316.0,206.00 L316.5,206.00 L317.0,206.00 L317.5,206.00 L318.0,206.00 L318.5,206.00 L319.0,206.00 L319.5,206.00 L320.0,206.00 L320.5,206.00 L321.0,206.00 L321.5,206.00 L322.0,206.00 L322.5,206.00 L323.0,206.00 L323.5,206.00 L324.0,206.00 L324.5,206.00 L325.0,206.00 L325.5,206.00 L326.0,206.00 L326.5,206.00 L327.0,206.00 L327.5,206.00 L328.0,206.00 L328.5,206.00 L329.0,206.00 L329.5,206.00 L330.0,206.00 L330.5,206.00 L331.0,206.00 L331.5,206.00 L332.0,206.00 L332.5,206.00 L333.0,206.00 L333.5,206.00 L334.0,206.00 L334.5,206.00 L335.0,206.00 L335.5,206.00 L336.0,206.00 L336.5,206.00 L336.5,206.0 L268.5,206.0 Z" fill="#c2c6da"/>
<path d="M268.5,206.0 V137.9 H336.5 V206.0" fill="none" stroke="#1a1a1a" stroke-width="1.25"/>
<path d="M268.5,206.0 H336.5" fill="none" stroke="#1a1a1a" stroke-width="0.8"/>
<path d="M265.1,141.00 H268.5 M266.8,144.25 H268.5 M266.8,147.50 H268.5 M266.8,150.75 H268.5 M265.1,154.00 H268.5 M266.8,157.25 H268.5 M266.8,160.50 H268.5 M266.8,163.75 H268.5 M265.1,167.00 H268.5 M266.8,170.25 H268.5 M266.8,173.50 H268.5 M266.8,176.75 H268.5 M265.1,180.00 H268.5 M266.8,183.25 H268.5 M266.8,186.50 H268.5 M266.8,189.75 H268.5 M265.1,193.00 H268.5 M266.8,196.25 H268.5 M266.8,199.50 H268.5 M266.8,202.75 H268.5 M265.1,206.00 H268.5 " stroke="#1a1a1a" stroke-width="0.9"/>
<path d="M270.1,206.0 v2.4 M271.2,206.0 v2.4 M272.6,206.0 v2.4 M275.3,206.0 v2.8 M276.4,206.0 v2.8 M277.5,206.0 v2.8 M278.6,206.0 v2.8 M279.7,206.0 v2.8 M280.8,206.0 v2.8 M281.9,206.0 v2.8 M283.0,206.0 v3.6 M287.7,206.0 v2.6 M290.4,206.0 v2.6 M292.4,206.0 v2.6 M293.9,206.0 v2.6 M295.1,206.0 v2.6 M296.2,206.0 v2.6 M297.1,206.0 v2.6 M297.9,206.0 v2.6 M298.6,206.0 v3.6 M303.7,206.0 v2.6 M306.7,206.0 v2.6 M308.8,206.0 v2.6 M310.5,206.0 v2.6 M311.8,206.0 v2.6 M313.0,206.0 v2.6 M314.0,206.0 v2.6 M314.8,206.0 v2.6 M315.6,206.0 v3.6 M320.1,206.0 v2.6 M322.8,206.0 v2.6 M324.6,206.0 v2.6 M326.1,206.0 v2.6 M327.3,206.0 v2.6 M328.3,206.0 v2.6 M329.1,206.0 v2.6 M329.9,206.0 v2.6 M330.6,206.0 v3.6 M335.0,206.0 v1.3 " stroke="#1a1a1a" stroke-width="0.95"/>
<path d="M268.5,206.00 L269.0,206.00 L269.5,206.00 L270.0,206.00 L270.5,206.00 L271.0,206.00 L271.5,206.00 L272.0,206.00 L272.5,206.00 L273.0,206.00 L273.5,206.00 L274.0,206.00 L274.5,206.00 L275.0,206.00 L275.5,206.00 L276.0,206.00 L276.5,206.00 L277.0,206.00 L277.5,206.00 L278.0,206.00 L278.5,206.00 L279.0,206.00 L279.5,206.00 L280.0,206.00 L280.5,206.00 L281.0,206.00 L281.5,206.00 L282.0,206.00 L282.5,206.00 L283.0,206.00 L283.5,206.00 L284.0,206.00 L284.5,206.00 L285.0,206.00 L285.5,206.00 L286.0,206.00 L286.5,206.00 L287.0,206.00 L287.5,206.00 L288.0,206.00 L288.5,206.00 L289.0,206.00 L289.5,206.00 L290.0,206.00 L290.5,206.00 L291.0,206.00 L291.5,206.00 L292.0,206.00 L292.5,206.00 L293.0,206.00 L293.5,206.00 L294.0,206.00 L294.5,206.00 L295.0,206.00 L295.5,206.00 L296.0,206.00 L296.5,205.90 L297.0,205.61 L297.5,205.15 L298.0,204.46 L298.5,203.45 L299.0,202.04 L299.5,200.14 L300.0,197.65 L300.5,194.52 L301.0,190.68 L301.5,186.10 L302.0,180.71 L302.5,174.35 L303.0,166.88 L303.5,158.37 L304.0,149.81 L304.5,143.71 L304.8,142.50 L305.0,142.83 L305.5,146.60 L306.0,153.24 L306.5,160.78 L307.0,167.96 L307.5,174.32 L308.0,179.84 L308.5,184.65 L309.0,188.83 L309.5,192.43 L310.0,195.51 L310.5,198.07 L311.0,200.16 L311.5,201.83 L312.0,203.12 L312.5,204.09 L313.0,204.81 L313.5,205.32 L314.0,205.67 L314.5,205.91 L315.0,206.00 L315.5,206.00 L316.0,206.00 L316.5,206.00 L317.0,206.00 L317.5,206.00 L318.0,206.00 L318.5,206.00 L319.0,206.00 L319.5,206.00 L320.0,206.00 L320.5,206.00 L321.0,206.00 L321.5,206.00 L322.0,206.00 L322.5,206.00 L323.0,206.00 L323.5,206.00 L324.0,206.00 L324.5,206.00 L325.0,206.00 L325.5,206.00 L326.0,206.00 L326.5,206.00 L327.0,206.00 L327.5,206.00 L328.0,206.00 L328.5,206.00 L329.0,206.00 L329.5,206.00 L330.0,206.00 L330.5,206.00 L331.0,206.00 L331.5,206.00 L332.0,206.00 L332.5,206.00 L333.0,206.00 L333.5,206.00 L334.0,206.00 L334.5,206.00 L335.0,206.00 L335.5,206.00 L336.0,206.00 L336.5,206.00" fill="none" stroke="#33538d" stroke-width="1.3"/>
<path d="M268.5,206.00 L269.0,206.00 L269.5,206.00 L270.0,206.00 L270.5,206.00 L271.0,206.00 L271.5,206.00 L272.0,206.00 L272.5,206.00 L273.0,206.00 L273.5,206.00 L274.0,206.00 L274.5,206.00 L275.0,206.00 L275.5,206.00 L276.0,206.00 L276.5,206.00 L277.0,206.00 L277.5,206.00 L278.0,206.00 L278.5,206.00 L279.0,206.00 L279.5,206.00 L280.0,206.00 L280.5,206.00 L281.0,206.00 L281.5,206.00 L282.0,206.00 L282.5,206.00 L283.0,206.00 L283.5,206.00 L284.0,206.00 L284.5,206.00 L285.0,206.00 L285.5,206.00 L286.0,206.00 L286.5,206.00 L287.0,206.00 L287.5,206.00 L288.0,206.00 L288.5,206.00 L289.0,206.00 L289.5,206.00 L290.0,206.00 L290.5,206.00 L291.0,206.00 L291.5,206.00 L292.0,206.00 L292.5,206.00 L293.0,206.00 L293.5,206.00 L294.0,206.00 L294.5,206.00 L295.0,206.00 L295.5,206.00 L296.0,206.00 L296.5,206.00 L297.0,206.00 L297.5,205.99 L298.0,205.59 L298.5,205.05 L299.0,204.36 L299.5,203.47 L300.0,202.36 L300.5,201.00 L301.0,199.37 L301.5,197.44 L302.0,195.20 L302.5,192.65 L303.0,189.78 L303.5,186.61 L304.0,183.10 L304.5,179.21 L305.0,174.84 L305.5,169.82 L306.0,164.00 L306.5,157.40 L307.0,150.60 L307.5,145.02 L308.0,142.52 L308.1,142.50 L308.5,144.05 L309.0,148.80 L309.5,155.16 L310.0,161.67 L310.5,167.57 L311.0,172.71 L311.5,177.17 L312.0,181.13 L312.5,184.69 L313.0,187.92 L313.5,190.86 L314.0,193.51 L314.5,195.87 L315.0,197.94 L315.5,199.73 L316.0,201.25 L316.5,202.52 L317.0,203.56 L317.5,204.40 L318.0,205.06 L318.5,205.57 L319.0,205.97 L319.5,206.00 L320.0,206.00 L320.5,206.00 L321.0,206.00 L321.5,206.00 L322.0,206.00 L322.5,206.00 L323.0,206.00 L323.5,206.00 L324.0,206.00 L324.5,206.00 L325.0,206.00 L325.5,206.00 L326.0,206.00 L326.5,206.00 L327.0,206.00 L327.5,206.00 L328.0,206.00 L328.5,206.00 L329.0,206.00 L329.5,206.00 L330.0,206.00 L330.5,206.00 L331.0,206.00 L331.5,206.00 L332.0,206.00 L332.5,206.00 L333.0,206.00 L333.5,206.00 L334.0,206.00 L334.5,206.00 L335.0,206.00 L335.5,206.00 L336.0,206.00 L336.5,206.00" fill="none" stroke="#aa1a3c" stroke-width="1.25"/>
<text x="320.75" y="147.90" font-size="8.8" fill="#1c1c1c" stroke="#1c1c1c" stroke-width="0.15" textLength="11.53" lengthAdjust="spacingAndGlyphs"><tspan>30′</tspan></text>
<path d="M355.5,206.00 L356.0,206.00 L356.5,206.00 L357.0,206.00 L357.5,206.00 L358.0,206.00 L358.5,206.00 L359.0,206.00 L359.5,206.00 L360.0,206.00 L360.5,206.00 L361.0,206.00 L361.5,206.00 L362.0,206.00 L362.5,206.00 L363.0,206.00 L363.5,206.00 L364.0,206.00 L364.5,206.00 L365.0,206.00 L365.5,206.00 L366.0,206.00 L366.5,206.00 L367.0,206.00 L367.5,206.00 L368.0,206.00 L368.5,206.00 L369.0,206.00 L369.5,206.00 L370.0,206.00 L370.5,206.00 L371.0,206.00 L371.5,206.00 L372.0,206.00 L372.5,206.00 L373.0,206.00 L373.5,206.00 L374.0,206.00 L374.5,206.00 L375.0,206.00 L375.5,206.00 L376.0,206.00 L376.5,206.00 L377.0,206.00 L377.5,206.00 L378.0,206.00 L378.5,206.00 L379.0,206.00 L379.5,206.00 L380.0,206.00 L380.5,206.00 L381.0,206.00 L381.5,206.00 L382.0,206.00 L382.5,206.00 L383.0,206.00 L383.5,206.00 L384.0,206.00 L384.5,206.00 L385.0,205.93 L385.5,205.33 L386.0,204.48 L386.5,203.31 L387.0,201.75 L387.5,199.72 L388.0,197.17 L388.5,194.08 L389.0,190.41 L389.5,186.14 L390.0,181.21 L390.5,175.50 L391.0,168.78 L391.5,160.88 L392.0,152.27 L392.5,144.89 L393.0,141.90 L393.0,141.90 L393.5,144.71 L394.0,151.59 L394.5,159.79 L395.0,167.46 L395.5,174.08 L396.0,179.73 L396.5,184.61 L397.0,188.88 L397.5,192.60 L398.0,195.79 L398.5,198.46 L399.0,200.65 L399.5,202.39 L400.0,203.74 L400.5,204.76 L401.0,205.50 L401.5,206.00 L402.0,206.00 L402.5,206.00 L403.0,206.00 L403.5,206.00 L404.0,206.00 L404.5,206.00 L405.0,206.00 L405.5,206.00 L406.0,206.00 L406.5,206.00 L407.0,206.00 L407.5,206.00 L408.0,206.00 L408.5,206.00 L409.0,206.00 L409.5,206.00 L410.0,206.00 L410.5,206.00 L411.0,206.00 L411.5,206.00 L412.0,206.00 L412.5,206.00 L413.0,206.00 L413.5,206.00 L414.0,206.00 L414.5,206.00 L415.0,206.00 L415.5,206.00 L416.0,206.00 L416.5,206.00 L417.0,206.00 L417.5,206.00 L418.0,206.00 L418.5,206.00 L419.0,206.00 L419.5,206.00 L420.0,206.00 L420.5,206.00 L421.0,206.00 L421.5,206.00 L422.0,206.00 L422.5,206.00 L423.0,206.00 L423.5,206.00 L424.0,206.00 L424.0,206.0 L355.5,206.0 Z" fill="#c2c6da"/>
<path d="M355.5,206.0 V137.9 H424.0 V206.0" fill="none" stroke="#1a1a1a" stroke-width="1.25"/>
<path d="M355.5,206.0 H424.0" fill="none" stroke="#1a1a1a" stroke-width="0.8"/>
<path d="M352.1,141.00 H355.5 M353.8,144.25 H355.5 M353.8,147.50 H355.5 M353.8,150.75 H355.5 M352.1,154.00 H355.5 M353.8,157.25 H355.5 M353.8,160.50 H355.5 M353.8,163.75 H355.5 M352.1,167.00 H355.5 M353.8,170.25 H355.5 M353.8,173.50 H355.5 M353.8,176.75 H355.5 M352.1,180.00 H355.5 M353.8,183.25 H355.5 M353.8,186.50 H355.5 M353.8,189.75 H355.5 M352.1,193.00 H355.5 M353.8,196.25 H355.5 M353.8,199.50 H355.5 M353.8,202.75 H355.5 M352.1,206.00 H355.5 " stroke="#1a1a1a" stroke-width="0.9"/>
<path d="M357.1,206.0 v2.4 M358.2,206.0 v2.4 M359.6,206.0 v2.4 M362.3,206.0 v2.8 M363.4,206.0 v2.8 M364.5,206.0 v2.8 M365.6,206.0 v2.8 M366.7,206.0 v2.8 M367.8,206.0 v2.8 M368.9,206.0 v2.8 M370.0,206.0 v3.6 M374.7,206.0 v2.6 M377.4,206.0 v2.6 M379.4,206.0 v2.6 M380.9,206.0 v2.6 M382.1,206.0 v2.6 M383.2,206.0 v2.6 M384.1,206.0 v2.6 M384.9,206.0 v2.6 M385.6,206.0 v3.6 M390.7,206.0 v2.6 M393.7,206.0 v2.6 M395.8,206.0 v2.6 M397.5,206.0 v2.6 M398.8,206.0 v2.6 M400.0,206.0 v2.6 M401.0,206.0 v2.6 M401.8,206.0 v2.6 M402.6,206.0 v3.6 M407.1,206.0 v2.6 M409.8,206.0 v2.6 M411.6,206.0 v2.6 M413.1,206.0 v2.6 M414.3,206.0 v2.6 M415.3,206.0 v2.6 M416.1,206.0 v2.6 M416.9,206.0 v2.6 M417.6,206.0 v3.6 M422.0,206.0 v1.3 " stroke="#1a1a1a" stroke-width="0.95"/>
<path d="M355.5,206.00 L356.0,206.00 L356.5,206.00 L357.0,206.00 L357.5,206.00 L358.0,206.00 L358.5,206.00 L359.0,206.00 L359.5,206.00 L360.0,206.00 L360.5,206.00 L361.0,206.00 L361.5,206.00 L362.0,206.00 L362.5,206.00 L363.0,206.00 L363.5,206.00 L364.0,206.00 L364.5,206.00 L365.0,206.00 L365.5,206.00 L366.0,206.00 L366.5,206.00 L367.0,206.00 L367.5,206.00 L368.0,206.00 L368.5,206.00 L369.0,206.00 L369.5,206.00 L370.0,206.00 L370.5,206.00 L371.0,206.00 L371.5,206.00 L372.0,206.00 L372.5,206.00 L373.0,206.00 L373.5,206.00 L374.0,206.00 L374.5,206.00 L375.0,206.00 L375.5,206.00 L376.0,206.00 L376.5,206.00 L377.0,206.00 L377.5,206.00 L378.0,206.00 L378.5,206.00 L379.0,206.00 L379.5,206.00 L380.0,206.00 L380.5,206.00 L381.0,206.00 L381.5,206.00 L382.0,206.00 L382.5,206.00 L383.0,206.00 L383.5,206.00 L384.0,206.00 L384.5,206.00 L385.0,205.93 L385.5,205.33 L386.0,204.48 L386.5,203.31 L387.0,201.75 L387.5,199.72 L388.0,197.17 L388.5,194.08 L389.0,190.41 L389.5,186.14 L390.0,181.21 L390.5,175.50 L391.0,168.78 L391.5,160.88 L392.0,152.27 L392.5,144.89 L393.0,141.90 L393.0,141.90 L393.5,144.71 L394.0,151.59 L394.5,159.79 L395.0,167.46 L395.5,174.08 L396.0,179.73 L396.5,184.61 L397.0,188.88 L397.5,192.60 L398.0,195.79 L398.5,198.46 L399.0,200.65 L399.5,202.39 L400.0,203.74 L400.5,204.76 L401.0,205.50 L401.5,206.00 L402.0,206.00 L402.5,206.00 L403.0,206.00 L403.5,206.00 L404.0,206.00 L404.5,206.00 L405.0,206.00 L405.5,206.00 L406.0,206.00 L406.5,206.00 L407.0,206.00 L407.5,206.00 L408.0,206.00 L408.5,206.00 L409.0,206.00 L409.5,206.00 L410.0,206.00 L410.5,206.00 L411.0,206.00 L411.5,206.00 L412.0,206.00 L412.5,206.00 L413.0,206.00 L413.5,206.00 L414.0,206.00 L414.5,206.00 L415.0,206.00 L415.5,206.00 L416.0,206.00 L416.5,206.00 L417.0,206.00 L417.5,206.00 L418.0,206.00 L418.5,206.00 L419.0,206.00 L419.5,206.00 L420.0,206.00 L420.5,206.00 L421.0,206.00 L421.5,206.00 L422.0,206.00 L422.5,206.00 L423.0,206.00 L423.5,206.00 L424.0,206.00" fill="none" stroke="#33538d" stroke-width="1.3"/>
<path d="M355.5,206.00 L356.0,206.00 L356.5,206.00 L357.0,206.00 L357.5,206.00 L358.0,206.00 L358.5,206.00 L359.0,206.00 L359.5,206.00 L360.0,206.00 L360.5,206.00 L361.0,206.00 L361.5,206.00 L362.0,206.00 L362.5,206.00 L363.0,206.00 L363.5,206.00 L364.0,206.00 L364.5,206.00 L365.0,206.00 L365.5,206.00 L366.0,206.00 L366.5,206.00 L367.0,206.00 L367.5,206.00 L368.0,206.00 L368.5,206.00 L369.0,206.00 L369.5,206.00 L370.0,206.00 L370.5,206.00 L371.0,206.00 L371.5,205.99 L372.0,205.99 L372.5,205.99 L373.0,205.98 L373.5,205.98 L374.0,205.97 L374.5,205.96 L375.0,205.95 L375.5,205.93 L376.0,205.91 L376.5,205.88 L377.0,205.85 L377.5,205.81 L378.0,205.75 L378.5,205.69 L379.0,205.61 L379.5,205.52 L380.0,205.40 L380.5,205.27 L381.0,205.10 L381.5,204.91 L382.0,204.67 L382.5,204.39 L383.0,204.05 L383.5,203.63 L384.0,203.14 L384.5,202.53 L385.0,201.78 L385.5,200.86 L386.0,199.71 L386.5,198.26 L387.0,196.44 L387.5,194.15 L388.0,191.27 L388.5,187.67 L389.0,183.26 L389.5,177.96 L390.0,171.81 L390.5,165.01 L391.0,157.96 L391.5,151.33 L392.0,145.92 L392.5,142.54 L392.9,141.70 L393.0,141.75 L393.5,143.12 L394.0,146.23 L394.5,150.72 L395.0,156.11 L395.5,161.92 L396.0,167.73 L396.5,173.25 L397.0,178.27 L397.5,182.69 L398.0,186.50 L398.5,189.73 L399.0,192.43 L399.5,194.67 L400.0,196.52 L400.5,198.05 L401.0,199.31 L401.5,200.35 L402.0,201.22 L402.5,201.94 L403.0,202.54 L403.5,203.06 L404.0,203.49 L404.5,203.86 L405.0,204.17 L405.5,204.44 L406.0,204.67 L406.5,204.87 L407.0,205.04 L407.5,205.19 L408.0,205.32 L408.5,205.42 L409.0,205.52 L409.5,205.60 L410.0,205.67 L410.5,205.72 L411.0,205.77 L411.5,205.81 L412.0,205.85 L412.5,205.87 L413.0,205.90 L413.5,205.92 L414.0,205.93 L414.5,205.95 L415.0,205.96 L415.5,205.97 L416.0,205.97 L416.5,205.98 L417.0,205.98 L417.5,205.99 L418.0,205.99 L418.5,205.99 L419.0,205.99 L419.5,206.00 L420.0,206.00 L420.5,206.00 L421.0,206.00 L421.5,206.00 L422.0,206.00 L422.5,206.00 L423.0,206.00 L423.5,206.00 L424.0,206.00" fill="none" stroke="#aa1a3c" stroke-width="1.25"/>
<text x="407.71" y="147.90" font-size="8.8" fill="#1c1c1c" stroke="#1c1c1c" stroke-width="0.15" textLength="11.57" lengthAdjust="spacingAndGlyphs"><tspan font-style="italic">60′</tspan></text>
<path d="M443.8,206.00 L444.3,206.00 L444.8,206.00 L445.3,206.00 L445.8,206.00 L446.3,206.00 L446.8,206.00 L447.3,206.00 L447.8,206.00 L448.3,206.00 L448.8,206.00 L449.3,206.00 L449.8,206.00 L450.3,206.00 L450.8,206.00 L451.3,206.00 L451.8,206.00 L452.3,206.00 L452.8,206.00 L453.3,206.00 L453.8,206.00 L454.3,206.00 L454.8,206.00 L455.4,206.00 L455.9,206.00 L456.4,206.00 L456.9,206.00 L457.4,206.00 L457.9,206.00 L458.4,206.00 L458.9,206.00 L459.4,206.00 L459.9,206.00 L460.4,206.00 L460.9,206.00 L461.4,206.00 L461.9,206.00 L462.4,206.00 L462.9,206.00 L463.4,206.00 L463.9,206.00 L464.4,206.00 L464.9,206.00 L465.4,206.00 L465.9,206.00 L466.4,206.00 L466.9,206.00 L467.4,206.00 L467.9,206.00 L468.4,206.00 L468.9,206.00 L469.4,206.00 L469.9,206.00 L470.4,206.00 L470.9,206.00 L471.4,206.00 L471.9,206.00 L472.4,206.00 L472.9,206.00 L473.4,205.92 L473.9,205.16 L474.4,204.11 L474.9,202.70 L475.4,200.88 L475.9,198.57 L476.4,195.75 L476.9,192.37 L477.4,188.43 L478.0,183.88 L478.5,178.63 L479.0,172.52 L479.5,165.36 L480.0,157.21 L480.5,149.11 L481.0,143.45 L481.3,142.40 L481.5,142.84 L482.0,147.37 L482.5,154.86 L483.0,162.88 L483.5,170.16 L484.0,176.41 L484.5,181.79 L485.0,186.46 L485.5,190.54 L486.0,194.07 L486.5,197.08 L487.0,199.59 L487.5,201.63 L488.0,203.24 L488.5,204.47 L489.0,205.40 L489.5,206.00 L490.0,206.00 L490.5,206.00 L491.0,206.00 L491.5,206.00 L492.0,206.00 L492.5,206.00 L493.0,206.00 L493.5,206.00 L494.0,206.00 L494.5,206.00 L495.0,206.00 L495.5,206.00 L496.0,206.00 L496.5,206.00 L497.0,206.00 L497.5,206.00 L498.0,206.00 L498.5,206.00 L499.0,206.00 L499.5,206.00 L500.0,206.00 L500.5,206.00 L501.1,206.00 L501.6,206.00 L502.1,206.00 L502.6,206.00 L503.1,206.00 L503.6,206.00 L504.1,206.00 L504.6,206.00 L505.1,206.00 L505.6,206.00 L506.1,206.00 L506.6,206.00 L507.1,206.00 L507.6,206.00 L508.1,206.00 L508.6,206.00 L509.1,206.00 L509.6,206.00 L510.1,206.00 L510.6,206.00 L511.1,206.00 L511.6,206.00 L512.1,206.00 L512.1,206.0 L443.8,206.0 Z" fill="#c2c6da"/>
<path d="M443.8,206.0 V137.9 H512.1 V206.0" fill="none" stroke="#1a1a1a" stroke-width="1.25"/>
<path d="M443.8,206.0 H512.1" fill="none" stroke="#1a1a1a" stroke-width="0.8"/>
<path d="M440.4,141.00 H443.8 M442.1,144.25 H443.8 M442.1,147.50 H443.8 M442.1,150.75 H443.8 M440.4,154.00 H443.8 M442.1,157.25 H443.8 M442.1,160.50 H443.8 M442.1,163.75 H443.8 M440.4,167.00 H443.8 M442.1,170.25 H443.8 M442.1,173.50 H443.8 M442.1,176.75 H443.8 M440.4,180.00 H443.8 M442.1,183.25 H443.8 M442.1,186.50 H443.8 M442.1,189.75 H443.8 M440.4,193.00 H443.8 M442.1,196.25 H443.8 M442.1,199.50 H443.8 M442.1,202.75 H443.8 M440.4,206.00 H443.8 " stroke="#1a1a1a" stroke-width="0.9"/>
<path d="M445.4,206.0 v2.4 M446.5,206.0 v2.4 M447.9,206.0 v2.4 M450.6,206.0 v2.8 M451.7,206.0 v2.8 M452.8,206.0 v2.8 M453.9,206.0 v2.8 M455.0,206.0 v2.8 M456.1,206.0 v2.8 M457.2,206.0 v2.8 M458.3,206.0 v3.6 M463.0,206.0 v2.6 M465.7,206.0 v2.6 M467.7,206.0 v2.6 M469.2,206.0 v2.6 M470.4,206.0 v2.6 M471.5,206.0 v2.6 M472.4,206.0 v2.6 M473.2,206.0 v2.6 M473.9,206.0 v3.6 M479.0,206.0 v2.6 M482.0,206.0 v2.6 M484.1,206.0 v2.6 M485.8,206.0 v2.6 M487.1,206.0 v2.6 M488.3,206.0 v2.6 M489.3,206.0 v2.6 M490.1,206.0 v2.6 M490.9,206.0 v3.6 M495.4,206.0 v2.6 M498.1,206.0 v2.6 M499.9,206.0 v2.6 M501.4,206.0 v2.6 M502.6,206.0 v2.6 M503.6,206.0 v2.6 M504.4,206.0 v2.6 M505.2,206.0 v2.6 M505.9,206.0 v3.6 M510.3,206.0 v1.3 " stroke="#1a1a1a" stroke-width="0.95"/>
<path d="M443.8,206.00 L444.3,206.00 L444.8,206.00 L445.3,206.00 L445.8,206.00 L446.3,206.00 L446.8,206.00 L447.3,206.00 L447.8,206.00 L448.3,206.00 L448.8,206.00 L449.3,206.00 L449.8,206.00 L450.3,206.00 L450.8,206.00 L451.3,206.00 L451.8,206.00 L452.3,206.00 L452.8,206.00 L453.3,206.00 L453.8,206.00 L454.3,206.00 L454.8,206.00 L455.4,206.00 L455.9,206.00 L456.4,206.00 L456.9,206.00 L457.4,206.00 L457.9,206.00 L458.4,206.00 L458.9,206.00 L459.4,206.00 L459.9,206.00 L460.4,206.00 L460.9,206.00 L461.4,206.00 L461.9,206.00 L462.4,206.00 L462.9,206.00 L463.4,206.00 L463.9,206.00 L464.4,206.00 L464.9,206.00 L465.4,206.00 L465.9,206.00 L466.4,206.00 L466.9,206.00 L467.4,206.00 L467.9,206.00 L468.4,206.00 L468.9,206.00 L469.4,206.00 L469.9,206.00 L470.4,206.00 L470.9,206.00 L471.4,206.00 L471.9,206.00 L472.4,206.00 L472.9,206.00 L473.4,205.92 L473.9,205.16 L474.4,204.11 L474.9,202.70 L475.4,200.88 L475.9,198.57 L476.4,195.75 L476.9,192.37 L477.4,188.43 L478.0,183.88 L478.5,178.63 L479.0,172.52 L479.5,165.36 L480.0,157.21 L480.5,149.11 L481.0,143.45 L481.3,142.40 L481.5,142.84 L482.0,147.37 L482.5,154.86 L483.0,162.88 L483.5,170.16 L484.0,176.41 L484.5,181.79 L485.0,186.46 L485.5,190.54 L486.0,194.07 L486.5,197.08 L487.0,199.59 L487.5,201.63 L488.0,203.24 L488.5,204.47 L489.0,205.40 L489.5,206.00 L490.0,206.00 L490.5,206.00 L491.0,206.00 L491.5,206.00 L492.0,206.00 L492.5,206.00 L493.0,206.00 L493.5,206.00 L494.0,206.00 L494.5,206.00 L495.0,206.00 L495.5,206.00 L496.0,206.00 L496.5,206.00 L497.0,206.00 L497.5,206.00 L498.0,206.00 L498.5,206.00 L499.0,206.00 L499.5,206.00 L500.0,206.00 L500.5,206.00 L501.1,206.00 L501.6,206.00 L502.1,206.00 L502.6,206.00 L503.1,206.00 L503.6,206.00 L504.1,206.00 L504.6,206.00 L505.1,206.00 L505.6,206.00 L506.1,206.00 L506.6,206.00 L507.1,206.00 L507.6,206.00 L508.1,206.00 L508.6,206.00 L509.1,206.00 L509.6,206.00 L510.1,206.00 L510.6,206.00 L511.1,206.00 L511.6,206.00 L512.1,206.00" fill="none" stroke="#33538d" stroke-width="1.3"/>
<path d="M443.8,206.00 L444.3,206.00 L444.8,206.00 L445.3,206.00 L445.8,206.00 L446.3,206.00 L446.8,206.00 L447.3,206.00 L447.8,206.00 L448.3,206.00 L448.8,206.00 L449.3,206.00 L449.8,206.00 L450.3,206.00 L450.8,206.00 L451.3,206.00 L451.8,206.00 L452.3,206.00 L452.8,206.00 L453.3,206.00 L453.8,206.00 L454.3,206.00 L454.8,206.00 L455.4,206.00 L455.9,206.00 L456.4,206.00 L456.9,206.00 L457.4,206.00 L457.9,206.00 L458.4,206.00 L458.9,206.00 L459.4,206.00 L459.9,206.00 L460.4,206.00 L460.9,206.00 L461.4,206.00 L461.9,205.99 L462.4,205.99 L462.9,205.98 L463.4,205.97 L463.9,205.96 L464.4,205.94 L464.9,205.92 L465.4,205.89 L465.9,205.84 L466.4,205.78 L466.9,205.69 L467.4,205.58 L467.9,205.44 L468.4,205.25 L468.9,205.01 L469.4,204.71 L469.9,204.33 L470.4,203.87 L470.9,203.30 L471.4,202.62 L471.9,201.81 L472.4,200.86 L472.9,199.75 L473.4,198.47 L473.9,196.99 L474.4,195.30 L474.9,193.37 L475.4,191.16 L475.9,188.62 L476.4,185.68 L476.9,182.25 L477.4,178.23 L478.0,173.51 L478.5,168.05 L479.0,161.97 L479.5,155.59 L480.0,149.59 L480.5,144.88 L481.0,142.41 L481.2,142.20 L481.5,142.63 L482.0,145.07 L482.5,149.24 L483.0,154.47 L483.5,160.11 L484.0,165.65 L484.5,170.77 L485.0,175.32 L485.5,179.31 L486.0,182.76 L486.5,185.76 L487.0,188.38 L487.5,190.68 L488.0,192.70 L488.5,194.50 L489.0,196.10 L489.5,197.52 L490.0,198.78 L490.5,199.89 L491.0,200.86 L491.5,201.71 L492.0,202.45 L492.5,203.08 L493.0,203.62 L493.5,204.08 L494.0,204.46 L494.5,204.77 L495.0,205.03 L495.5,205.24 L496.0,205.41 L496.5,205.55 L497.0,205.66 L497.5,205.74 L498.0,205.80 L498.5,205.85 L499.0,205.89 L499.5,205.92 L500.0,205.94 L500.5,205.96 L501.1,205.97 L501.6,205.98 L502.1,205.99 L502.6,205.99 L503.1,205.99 L503.6,206.00 L504.1,206.00 L504.6,206.00 L505.1,206.00 L505.6,206.00 L506.1,206.00 L506.6,206.00 L507.1,206.00 L507.6,206.00 L508.1,206.00 L508.6,206.00 L509.1,206.00 L509.6,206.00 L510.1,206.00 L510.6,206.00 L511.1,206.00 L511.6,206.00 L512.1,206.00" fill="none" stroke="#aa1a3c" stroke-width="1.25"/>
<text x="496.30" y="147.70" font-size="8.8" fill="#1c1c1c" stroke="#1c1c1c" stroke-width="0.15" textLength="11.58" lengthAdjust="spacingAndGlyphs"><tspan>80′</tspan></text>
<text x="0" y="0" transform="translate(259.40 199.28) rotate(-90)" font-size="10.4" fill="#1c1c1c" stroke="#1c1c1c" stroke-width="0.15" textLength="33.34" lengthAdjust="spacingAndGlyphs"><tspan>% of max</tspan></text>
<path d="M256.6,162.7 V149" stroke="#111" stroke-width="1.2"/>
<path d="M254.0,150.4 L256.6,144.6 L259.2,150.4 Z" fill="#111"/>
<text x="272.37" y="221.50" font-size="10.5" fill="#1c1c1c" stroke="#1c1c1c" stroke-width="0.15" textLength="62.04" lengthAdjust="spacingAndGlyphs"><tspan>Recycled Tfn-633</tspan></text>
<path d="M337.6,218.8 H350" stroke="#111" stroke-width="1.2"/>
<path d="M349.3,216.2 L355.3,218.8 L349.3,221.4 Z" fill="#111"/>
<line x1="286.4" y1="241" x2="286.4" y2="367.9" stroke="#1a1a1a" stroke-width="1.1"/>
<line x1="285.9" y1="367.4" x2="474.8" y2="367.4" stroke="#1a1a1a" stroke-width="1.3"/>
<line x1="283.0" y1="243.6" x2="286.4" y2="243.6" stroke="#1a1a1a" stroke-width="1.1"/>
<text x="264.80" y="245.90" font-size="9.3" fill="#1c1c1c" stroke="#1c1c1c" stroke-width="0.15" textLength="15.05" lengthAdjust="spacingAndGlyphs"><tspan>100</tspan></text>
<line x1="283.0" y1="268.32" x2="286.4" y2="268.32" stroke="#1a1a1a" stroke-width="1.1"/>
<text x="269.80" y="270.62" font-size="9.3" fill="#1c1c1c" stroke="#1c1c1c" stroke-width="0.15" textLength="10.03" lengthAdjust="spacingAndGlyphs"><tspan>80</tspan></text>
<line x1="283.0" y1="293.03999999999996" x2="286.4" y2="293.03999999999996" stroke="#1a1a1a" stroke-width="1.1"/>
<text x="269.80" y="295.34" font-size="9.3" fill="#1c1c1c" stroke="#1c1c1c" stroke-width="0.15" textLength="10.03" lengthAdjust="spacingAndGlyphs"><tspan>60</tspan></text>
<line x1="283.0" y1="317.76" x2="286.4" y2="317.76" stroke="#1a1a1a" stroke-width="1.1"/>
<text x="269.80" y="320.06" font-size="9.3" fill="#1c1c1c" stroke="#1c1c1c" stroke-width="0.15" textLength="10.03" lengthAdjust="spacingAndGlyphs"><tspan>40</tspan></text>
<line x1="283.0" y1="342.48" x2="286.4" y2="342.48" stroke="#1a1a1a" stroke-width="1.1"/>
<text x="269.80" y="344.78" font-size="9.3" fill="#1c1c1c" stroke="#1c1c1c" stroke-width="0.15" textLength="10.03" lengthAdjust="spacingAndGlyphs"><tspan>20</tspan></text>
<line x1="283.0" y1="367.2" x2="286.4" y2="367.2" stroke="#1a1a1a" stroke-width="1.1"/>
<text x="274.81" y="369.50" font-size="9.3" fill="#1c1c1c" stroke="#1c1c1c" stroke-width="0.15" textLength="5.02" lengthAdjust="spacingAndGlyphs"><tspan>0</tspan></text>
<line x1="286.4" y1="367.4" x2="286.4" y2="370.8" stroke="#1a1a1a" stroke-width="1.2"/>
<text x="283.87" y="381.90" font-size="9.3" fill="#1c1c1c" stroke="#1c1c1c" stroke-width="0.15" textLength="5.02" lengthAdjust="spacingAndGlyphs"><tspan>0</tspan></text>
<line x1="348.2" y1="367.4" x2="348.2" y2="370.8" stroke="#1a1a1a" stroke-width="1.2"/>
<text x="343.13" y="381.90" font-size="9.3" fill="#1c1c1c" stroke="#1c1c1c" stroke-width="0.15" textLength="10.03" lengthAdjust="spacingAndGlyphs"><tspan>20</tspan></text>
<line x1="409.8" y1="367.4" x2="409.8" y2="370.8" stroke="#1a1a1a" stroke-width="1.2"/>
<text x="404.86" y="381.90" font-size="9.3" fill="#1c1c1c" stroke="#1c1c1c" stroke-width="0.15" textLength="10.03" lengthAdjust="spacingAndGlyphs"><tspan>40</tspan></text>
<line x1="471.5" y1="367.4" x2="471.5" y2="370.8" stroke="#1a1a1a" stroke-width="1.2"/>
<text x="466.43" y="381.90" font-size="9.3" fill="#1c1c1c" stroke="#1c1c1c" stroke-width="0.15" textLength="10.03" lengthAdjust="spacingAndGlyphs"><tspan>60</tspan></text>
<text x="359.12" y="395.50" font-size="10.5" fill="#1c1c1c" stroke="#1c1c1c" stroke-width="0.15" textLength="40.74" lengthAdjust="spacingAndGlyphs"><tspan>Time [min]</tspan></text>
<text x="0" y="0" transform="translate(258.80 362.95) rotate(-90)" font-size="10.0" fill="#1c1c1c" stroke="#1c1c1c" stroke-width="0.15" textLength="115.66" lengthAdjust="spacingAndGlyphs"><tspan>Intracellular Tfn-633 [% of total]</tspan></text>
<line x1="408.5" y1="249.6" x2="424.9" y2="249.6" stroke="#22427f" stroke-width="1.6"/>
<circle cx="416.6" cy="249.6" r="2.4" fill="none" stroke="#22427f" stroke-width="1"/>
<line x1="408.5" y1="260.1" x2="424.9" y2="260.1" stroke="#a80d2e" stroke-width="1.6"/>
<circle cx="416.6" cy="260.1" r="2.4" fill="none" stroke="#a80d2e" stroke-width="1"/>
<text x="428.05" y="251.70" font-size="8.4" fill="#1c1c1c" stroke="#1c1c1c" stroke-width="0.15" textLength="14.04" lengthAdjust="spacingAndGlyphs"><tspan>Ctrl</tspan></text>
<text x="428.54" y="262.70" font-size="8.5" fill="#1c1c1c" stroke="#1c1c1c" stroke-width="0.15" textLength="37.62" lengthAdjust="spacingAndGlyphs"><tspan font-style="italic">VPS45</tspan><tspan> KO</tspan></text>
<path d="M286.40,243.60 L317.00,284.30 L347.90,306.40 L378.90,317.70 L471.40,326.60" fill="none" stroke="#a80d2e" stroke-width="1.6" stroke-linejoin="round"/>
<path d="M317.00,278.60 V290.40 M314.40,278.60 H319.60 M314.40,290.40 H319.60 M347.90,301.50 V311.40 M345.30,301.50 H350.50 M345.30,311.40 H350.50 M378.90,312.50 V322.50 M376.30,312.50 H381.50 M376.30,322.50 H381.50 M471.40,320.80 V332.90 M468.80,320.80 H474.00 M468.80,332.90 H474.00 " stroke="#a80d2e" stroke-width="1" fill="none"/>
<circle cx="286.40" cy="243.60" r="2.3" fill="none" stroke="#a80d2e" stroke-width="1.0"/>
<circle cx="317.00" cy="284.30" r="2.3" fill="none" stroke="#a80d2e" stroke-width="1.0"/>
<circle cx="347.90" cy="306.40" r="2.3" fill="none" stroke="#a80d2e" stroke-width="1.0"/>
<circle cx="378.90" cy="317.70" r="2.3" fill="none" stroke="#a80d2e" stroke-width="1.0"/>
<circle cx="471.40" cy="326.60" r="2.3" fill="none" stroke="#a80d2e" stroke-width="1.0"/>
<path d="M286.40,243.60 L317.00,311.40 L347.90,326.90 L378.90,328.80 L471.40,327.20" fill="none" stroke="#22427f" stroke-width="1.6" stroke-linejoin="round"/>
<path d="M317.00,304.70 V318.00 M314.40,304.70 H319.60 M314.40,318.00 H319.60 M347.90,321.20 V332.20 M345.30,321.20 H350.50 M345.30,332.20 H350.50 M378.90,322.40 V335.70 M376.30,322.40 H381.50 M376.30,335.70 H381.50 M471.40,321.30 V334.40 M468.80,321.30 H474.00 M468.80,334.40 H474.00 " stroke="#22427f" stroke-width="1" fill="none"/>
<circle cx="286.40" cy="243.60" r="2.3" fill="none" stroke="#22427f" stroke-width="1.0"/>
<circle cx="317.00" cy="311.40" r="2.3" fill="none" stroke="#22427f" stroke-width="1.0"/>
<circle cx="347.90" cy="326.90" r="2.3" fill="none" stroke="#22427f" stroke-width="1.0"/>
<circle cx="378.90" cy="328.80" r="2.3" fill="none" stroke="#22427f" stroke-width="1.0"/>
<circle cx="471.40" cy="327.20" r="2.3" fill="none" stroke="#22427f" stroke-width="1.0"/>
<polygon points="311.50,268.90 311.12,269.85 310.11,269.70 310.75,270.50 310.11,271.30 311.12,271.15 311.50,272.10 311.88,271.15 312.89,271.30 312.25,270.50 312.89,269.70 311.88,269.85" fill="#111"/>
<polygon points="315.20,268.90 314.82,269.85 313.81,269.70 314.45,270.50 313.81,271.30 314.82,271.15 315.20,272.10 315.57,271.15 316.59,271.30 315.95,270.50 316.59,269.70 315.57,269.85" fill="#111"/>
<polygon points="318.90,268.90 318.52,269.85 317.51,269.70 318.15,270.50 317.51,271.30 318.52,271.15 318.90,272.10 319.27,271.15 320.29,271.30 319.65,270.50 320.29,269.70 319.27,269.85" fill="#111"/>
<polygon points="322.60,268.90 322.23,269.85 321.21,269.70 321.85,270.50 321.21,271.30 322.23,271.15 322.60,272.10 322.98,271.15 323.99,271.30 323.35,270.50 323.99,269.70 322.98,269.85" fill="#111"/>
<polygon points="342.00,294.80 341.62,295.75 340.61,295.60 341.25,296.40 340.61,297.20 341.62,297.05 342.00,298.00 342.38,297.05 343.39,297.20 342.75,296.40 343.39,295.60 342.38,295.75" fill="#111"/>
<polygon points="345.70,294.80 345.32,295.75 344.31,295.60 344.95,296.40 344.31,297.20 345.32,297.05 345.70,298.00 346.07,297.05 347.09,297.20 346.45,296.40 347.09,295.60 346.07,295.75" fill="#111"/>
<polygon points="349.40,294.80 349.02,295.75 348.01,295.60 348.65,296.40 348.01,297.20 349.02,297.05 349.40,298.00 349.77,297.05 350.79,297.20 350.15,296.40 350.79,295.60 349.77,295.75" fill="#111"/>
<polygon points="353.10,294.80 352.73,295.75 351.71,295.60 352.35,296.40 351.71,297.20 352.73,297.05 353.10,298.00 353.48,297.05 354.49,297.20 353.85,296.40 354.49,295.60 353.48,295.75" fill="#111"/>
<polygon points="372.50,305.80 372.12,306.75 371.11,306.60 371.75,307.40 371.11,308.20 372.12,308.05 372.50,309.00 372.88,308.05 373.89,308.20 373.25,307.40 373.89,306.60 372.88,306.75" fill="#111"/>
<polygon points="376.10,305.80 375.73,306.75 374.71,306.60 375.35,307.40 374.71,308.20 375.73,308.05 376.10,309.00 376.48,308.05 377.49,308.20 376.85,307.40 377.49,306.60 376.48,306.75" fill="#111"/>
<polygon points="379.80,305.80 379.43,306.75 378.41,306.60 379.05,307.40 378.41,308.20 379.43,308.05 379.80,309.00 380.18,308.05 381.19,308.20 380.55,307.40 381.19,306.60 380.18,306.75" fill="#111"/>
<polygon points="383.50,305.80 383.12,306.75 382.11,306.60 382.75,307.40 382.11,308.20 383.12,308.05 383.50,309.00 383.88,308.05 384.89,308.20 384.25,307.40 384.89,306.60 383.88,306.75" fill="#111"/>
<text x="467.29" y="315.00" font-size="8.4" fill="#1c1c1c" stroke="#1c1c1c" stroke-width="0.15" textLength="8.29" lengthAdjust="spacingAndGlyphs"><tspan>ns</tspan></text></g></svg>
</body></html>
